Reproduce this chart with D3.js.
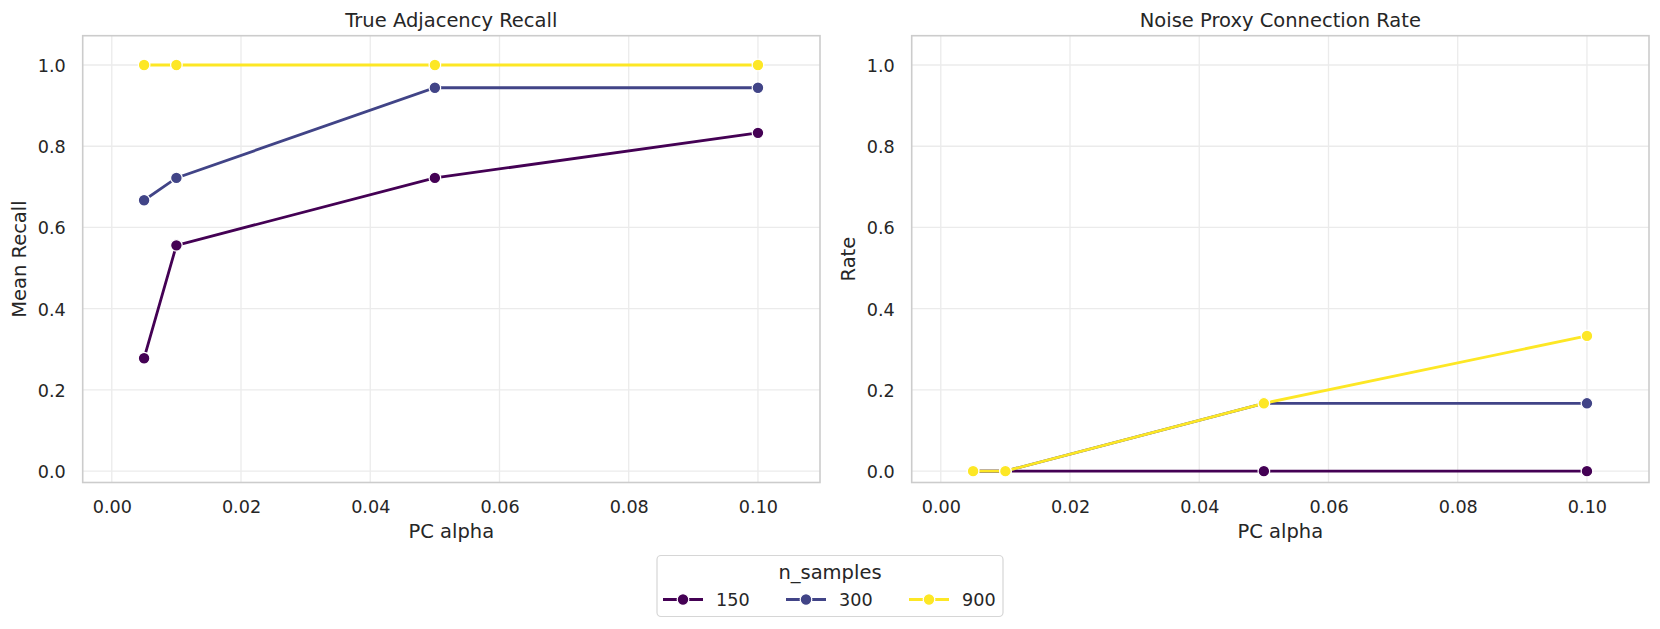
<!DOCTYPE html>
<html>
<head>
<meta charset="utf-8">
<script src="https://cdn.jsdelivr.net/npm/d3@7"></script>
<style>
  body { margin: 0; background: #fff; }
  svg { display: block; font-family: "DejaVu Sans", sans-serif; }
  text { fill: #262626; }
</style>
</head>
<body>
<div id="chart"></div>
<script>
// data
const alphas = [0.005, 0.01, 0.05, 0.1];
const sampleSizes = [150, 300, 900];
const recall150 = [0.278, 0.556, 0.722, 0.833];
const recall300 = [0.667, 0.722, 0.944, 0.944];
const recall900 = [1.0, 1.0, 1.0, 1.0];
const noise150 = [0.0, 0.0, 0.0, 0.0];
const noise300 = [0.0, 0.0, 0.167, 0.167];
const noise900 = [0.0, 0.0, 0.167, 0.333];
const xTicks = [0.00, 0.02, 0.04, 0.06, 0.08, 0.10];
const yTicks = [0.0, 0.2, 0.4, 0.6, 0.8, 1.0];

const colors = ['#440154', '#414487', '#fde725'];

const W = 1660, H = 629;
const svg = d3.select('#chart').append('svg').attr('width', W).attr('height', H);

const panels = [
  {title: 'True Adjacency Recall', ylabel: 'Mean Recall', series: [recall150, recall300, recall900], left: 82.7},
  {title: 'Noise Proxy Connection Rate', ylabel: 'Rate', series: [noise150, noise300, noise900], left: 911.7}
];
const pw = 737.3, plotTop = 35.7, plotBottom = 482.5;

panels.forEach(p => {
  const g = svg.append('g');
  const x = d3.scaleLinear().domain([-0.0045, 0.1096]).range([p.left, p.left + pw]);
  const y = d3.scaleLinear().domain([-0.028, 1.0722]).range([plotBottom, plotTop]);

  // grid
  g.selectAll('line.gx').data(xTicks).enter().append('line')
    .attr('x1', d => x(d)).attr('x2', d => x(d)).attr('y1', plotTop).attr('y2', plotBottom)
    .attr('stroke', '#ebebeb').attr('stroke-width', 1.3);
  g.selectAll('line.gy').data(yTicks).enter().append('line')
    .attr('y1', d => y(d)).attr('y2', d => y(d)).attr('x1', p.left).attr('x2', p.left + pw)
    .attr('stroke', '#ebebeb').attr('stroke-width', 1.3);

  // axes (no tick marks, labels only)
  const xa = g.append('g').attr('transform', `translate(0,${plotBottom})`)
    .call(d3.axisBottom(x).tickValues(xTicks).tickFormat(d3.format('.2f')).tickSize(0).tickPadding(18.3));
  const ya = g.append('g').attr('transform', `translate(${p.left},0)`)
    .call(d3.axisLeft(y).tickValues(yTicks).tickFormat(d3.format('.1f')).tickSize(0).tickPadding(17));
  [xa, ya].forEach(a => {
    a.select('.domain').remove();
    a.selectAll('text').style('font-size', '17.6px').style('font-family', '"DejaVu Sans"').attr('fill', '#262626');
  });
  ya.selectAll('text').attr('dy', '0.36em');

  // frame
  g.append('rect').attr('x', p.left).attr('y', plotTop).attr('width', pw).attr('height', plotBottom - plotTop)
    .attr('fill', 'none').attr('stroke', '#cccccc').attr('stroke-width', 1.6);

  // lines + markers
  const line = d3.line().x((d, i) => x(alphas[i])).y(d => y(d));
  p.series.forEach((s, k) => {
    g.append('path').datum(s).attr('d', line)
      .attr('fill', 'none').attr('stroke', colors[k]).attr('stroke-width', 2.8);
    g.selectAll(null).data(s).enter().append('circle')
      .attr('cx', (d, i) => x(alphas[i])).attr('cy', d => y(d)).attr('r', 5.8)
      .attr('fill', colors[k]).attr('stroke', '#fff').attr('stroke-width', 1.2);
  });

  // titles
  g.append('text').attr('x', p.left + pw / 2).attr('y', 27.3).attr('text-anchor', 'middle')
    .style('font-size', '19.5px').text(p.title);
  g.append('text').attr('x', p.left + pw / 2).attr('y', 537.5).attr('text-anchor', 'middle')
    .style('font-size', '19.5px').text('PC alpha');
  g.append('text').attr('transform', `translate(${p.left - 56.5},${(plotTop + plotBottom) / 2}) rotate(-90)`)
    .attr('text-anchor', 'middle').style('font-size', '19.5px').text(p.ylabel);
});

// legend
const lg = svg.append('g');
lg.append('rect').attr('x', 657).attr('y', 555.5).attr('width', 346).attr('height', 61)
  .attr('rx', 4).attr('fill', '#fff').attr('stroke', '#d6d6d6').attr('stroke-width', 1.2);
lg.append('text').attr('x', 830).attr('y', 579).attr('text-anchor', 'middle')
  .style('font-size', '19.5px').text('n_samples');
sampleSizes.forEach((n, k) => {
  const x0 = 663 + k * 123, yy = 599.5;
  lg.append('line').attr('x1', x0).attr('x2', x0 + 40).attr('y1', yy).attr('y2', yy)
    .attr('stroke', colors[k]).attr('stroke-width', 2.8);
  lg.append('circle').attr('cx', x0 + 20).attr('cy', yy).attr('r', 5.8)
    .attr('fill', colors[k]).attr('stroke', '#fff').attr('stroke-width', 1.2);
  lg.append('text').attr('x', x0 + 53).attr('y', yy + 6.3).style('font-size', '17.6px').text(n);
});
</script>
</body>
</html>
